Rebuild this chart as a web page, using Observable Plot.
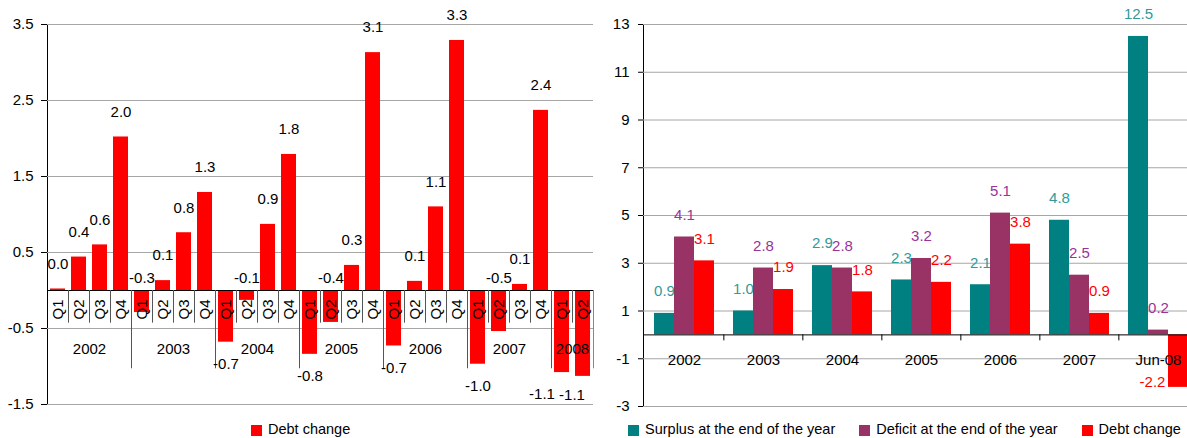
<!DOCTYPE html>
<html>
<head>
<meta charset="utf-8">
<script src="https://cdn.jsdelivr.net/npm/d3@7"></script>
<script src="https://cdn.jsdelivr.net/npm/@observablehq/plot@0.6"></script>
<style>
  html, body { margin: 0; padding: 0; background: #fff; overflow: hidden; }
  body { font-family: "Liberation Sans", Arial, sans-serif; color: #000; }
  #wrap { display: flex; width: 1200px; height: 438px; }
  .panel { position: relative; flex: none; }
  .legend { display: flex; align-items: center; height: 18px; font-size: 14.5px; white-space: nowrap; }
  .legend .item { display: flex; align-items: center; margin-right: 24px; }
  .legend .sw { width: 11px; height: 11px; margin-right: 6px; margin-top: 2px; }
  svg { display: block; }
</style>
</head>
<body>
<div id="wrap">
  <div class="panel" id="left" style="width:596px"></div>
  <div class="panel" id="right" style="width:602px"></div>
</div>
<script>
// ---------- data ----------
const years = ["2002", "2003", "2004", "2005", "2006", "2007", "2008"];
const quarterNames = ["Q1", "Q2", "Q3", "Q4"];
const quartersPerYear = [4, 4, 4, 4, 4, 4, 2];
const debtChangeQ = [
  0.02, 0.44, 0.6, 2.02,
  -0.29, 0.13, 0.76, 1.29,
  -0.68, -0.13, 0.87, 1.79,
  -0.84, -0.42, 0.33, 3.13,
  -0.73, 0.12, 1.1, 3.29,
  -0.97, -0.54, 0.08, 2.37,
  -1.08, -1.13
];
const leftTicks = [-1.5, -0.5, 0.5, 1.5, 2.5, 3.5];

const categories = ["2002", "2003", "2004", "2005", "2006", "2007", "Jun-08"];
const surplus = [0.9, 1.0, 2.9, 2.3, 2.1, 4.8, 12.5];
const deficit = [4.1, 2.8, 2.8, 3.2, 5.1, 2.5, 0.2];
const debtChange = [3.1, 1.9, 1.8, 2.2, 3.8, 0.9, -2.2];
const rightTicks = [-3, -1, 1, 3, 5, 7, 9, 11, 13];

const seriesNames = ["Surplus at the end of the year", "Deficit at the end of the year", "Debt change"];
const barColors = ["#008080", "#993366", "#ff0000"];
const labelColors = ["#2f9a9a", "#993399", "#ff0000"];

// ---------- left chart ----------
const qData = [];
years.forEach((y, yi) => {
  for (let k = 0; k < quartersPerYear[yi]; k++) {
    qData.push({key: y + " " + quarterNames[k], year: y, q: quarterNames[k], first: k === 0, value: debtChangeQ[qData.length]});
  }
});
const yearData = years.map((y, yi) => {
  const qs = qData.filter(d => d.year === y);
  return {year: y, anchor: qs[Math.floor((qs.length - 1) / 2)].key, n: qs.length};
});
const fmt = v => v.toFixed(1);
const font = '"Liberation Sans", Arial, sans-serif';

const LW = 596, LML = 47, LMR = 3;
const lStep = (LW - LML - LMR) / qData.length;

// deep negative labels; the final two adjacent ones are nudged left so they don't collide
const deepNeg = qData.filter(d => d.value <= -0.6);
const lastTwo = qData.slice(-2);
const deepNegMain = deepNeg.filter(d => !lastTwo.includes(d));

const left = Plot.plot({
  width: LW, height: 420,
  marginLeft: LML, marginRight: LMR, marginTop: 24, marginBottom: 16,
  style: {fontFamily: font, fontSize: "15px", color: "#000", background: "#fff"},
  x: {domain: qData.map(d => d.key), paddingInner: 0.29, paddingOuter: 0.145, axis: null},
  y: {domain: [-1.5, 3.5], ticks: leftTicks, tickFormat: d => d.toFixed(1), tickSize: 6, tickPadding: 8, line: true, label: null},
  marks: [
    Plot.ruleY(leftTicks, {stroke: "#a6a6a6"}),
    Plot.barY(qData, {x: "key", y: "value", fill: "#ff0000"}),
    Plot.ruleY([0], {stroke: "#000"}),
    Plot.ruleX(qData.filter(d => !d.first), {x: "key", dx: -lStep / 2, y1: () => 0, y2: () => -0.43, stroke: "#555"}),
    Plot.ruleX(qData.filter((d, i) => d.first && i > 0), {x: "key", dx: -lStep / 2, y1: () => 0, y2: () => -1.03, stroke: "#555"}),
    Plot.ruleX(qData.slice(-1), {x: "key", dx: lStep / 2, y1: () => 0, y2: () => -1.03, stroke: "#888"}),
    Plot.text(qData, {x: "key", y: () => 0, text: "q", rotate: -90, dy: 19, fill: "#000", fontSize: 15}),
    Plot.text(yearData, {x: "anchor", y: () => 0, text: "year", dx: lStep / 2, dy: 59, fill: "#000", fontSize: 15}),
    Plot.text(qData.filter(d => d.value >= 0), {x: "key", y: "value", text: d => fmt(d.value), dy: -25, fill: "#000", fontSize: 15}),
    Plot.text(qData.filter(d => d.value < 0 && d.value > -0.6), {x: "key", y: () => 0, text: d => fmt(d.value), dy: -12, fill: "#000", fontSize: 15}),
    Plot.text(deepNegMain, {x: "key", y: "value", text: d => fmt(d.value), dy: 22, fill: "#000", fontSize: 15}),
    Plot.text(lastTwo.slice(0, 1), {x: "key", y: "value", text: d => fmt(d.value), dx: -20, dy: 22, fill: "#000", fontSize: 15}),
    Plot.text(lastTwo.slice(1), {x: "key", y: "value", text: d => fmt(d.value), dx: -11, dy: 19, fill: "#000", fontSize: 15})
  ]
});
document.getElementById("left").appendChild(left);

// left legend
const ll = document.createElement("div");
ll.className = "legend";
ll.style.marginLeft = "251px";
ll.innerHTML = `<div class="item"><div class="sw" style="background:#ff0000"></div><span>Debt change</span></div>`;
document.getElementById("left").appendChild(ll);

// ---------- right chart ----------
const rData = categories.map((c, i) => ({cat: c, s: surplus[i], d: deficit[i], c: debtChange[i]}));
const RW = 602, RML = 47, RMR = 0;
const rStep = (RW - RML - RMR) / categories.length;
const barW = 20;
const pInner = 1 - barW / rStep;
const seriesKeys = ["s", "d", "c"];

const rMarks = [Plot.ruleY(rightTicks, {stroke: "#a6a6a6"})];
seriesKeys.forEach((k, si) => {
  rMarks.push(Plot.barY(rData, {x: "cat", y: k, fill: barColors[si], dx: (si - 1) * barW}));
});
rMarks.push(Plot.ruleY([0], {stroke: "#000"}));
rMarks.push(Plot.ruleX(categories.slice(1), {x: d => d, dx: -rStep / 2, y1: () => 0, y2: () => -0.25, stroke: "#000"}));
rMarks.push(Plot.text(categories, {x: d => d, y: () => 0, text: d => d, dy: 25, fill: "#000", fontSize: 15}));
seriesKeys.forEach((k, si) => {
  rMarks.push(Plot.text(rData.filter(d => d[k] >= 0), {x: "cat", y: k, text: d => fmt(d[k]), dx: (si - 1) * barW, dy: -22, fill: labelColors[si], fontSize: 15}));
  rMarks.push(Plot.text(rData.filter(d => d[k] < 0), {x: "cat", y: k, text: d => fmt(d[k]), dx: (si - 1) * barW - 26, dy: -5, fill: labelColors[si], fontSize: 15}));
});

const right = Plot.plot({
  width: RW, height: 420,
  marginLeft: RML, marginRight: RMR, marginTop: 24, marginBottom: 14,
  style: {fontFamily: font, fontSize: "15px", color: "#000", background: "#fff", overflow: "visible"},
  x: {domain: categories, paddingInner: pInner, paddingOuter: pInner / 2, axis: null},
  y: {domain: [-3, 13], ticks: rightTicks, tickFormat: d => String(d), tickSize: 5, tickPadding: 9, line: true, label: null},
  marks: rMarks
});
document.getElementById("right").appendChild(right);

// right legend
const rl = document.createElement("div");
rl.className = "legend";
rl.style.marginLeft = "32px";
rl.innerHTML = seriesNames.map((n, i) =>
  `<div class="item"><div class="sw" style="background:${barColors[i]}"></div><span>${n}</span></div>`).join("");
document.getElementById("right").appendChild(rl);
</script>
</body>
</html>
